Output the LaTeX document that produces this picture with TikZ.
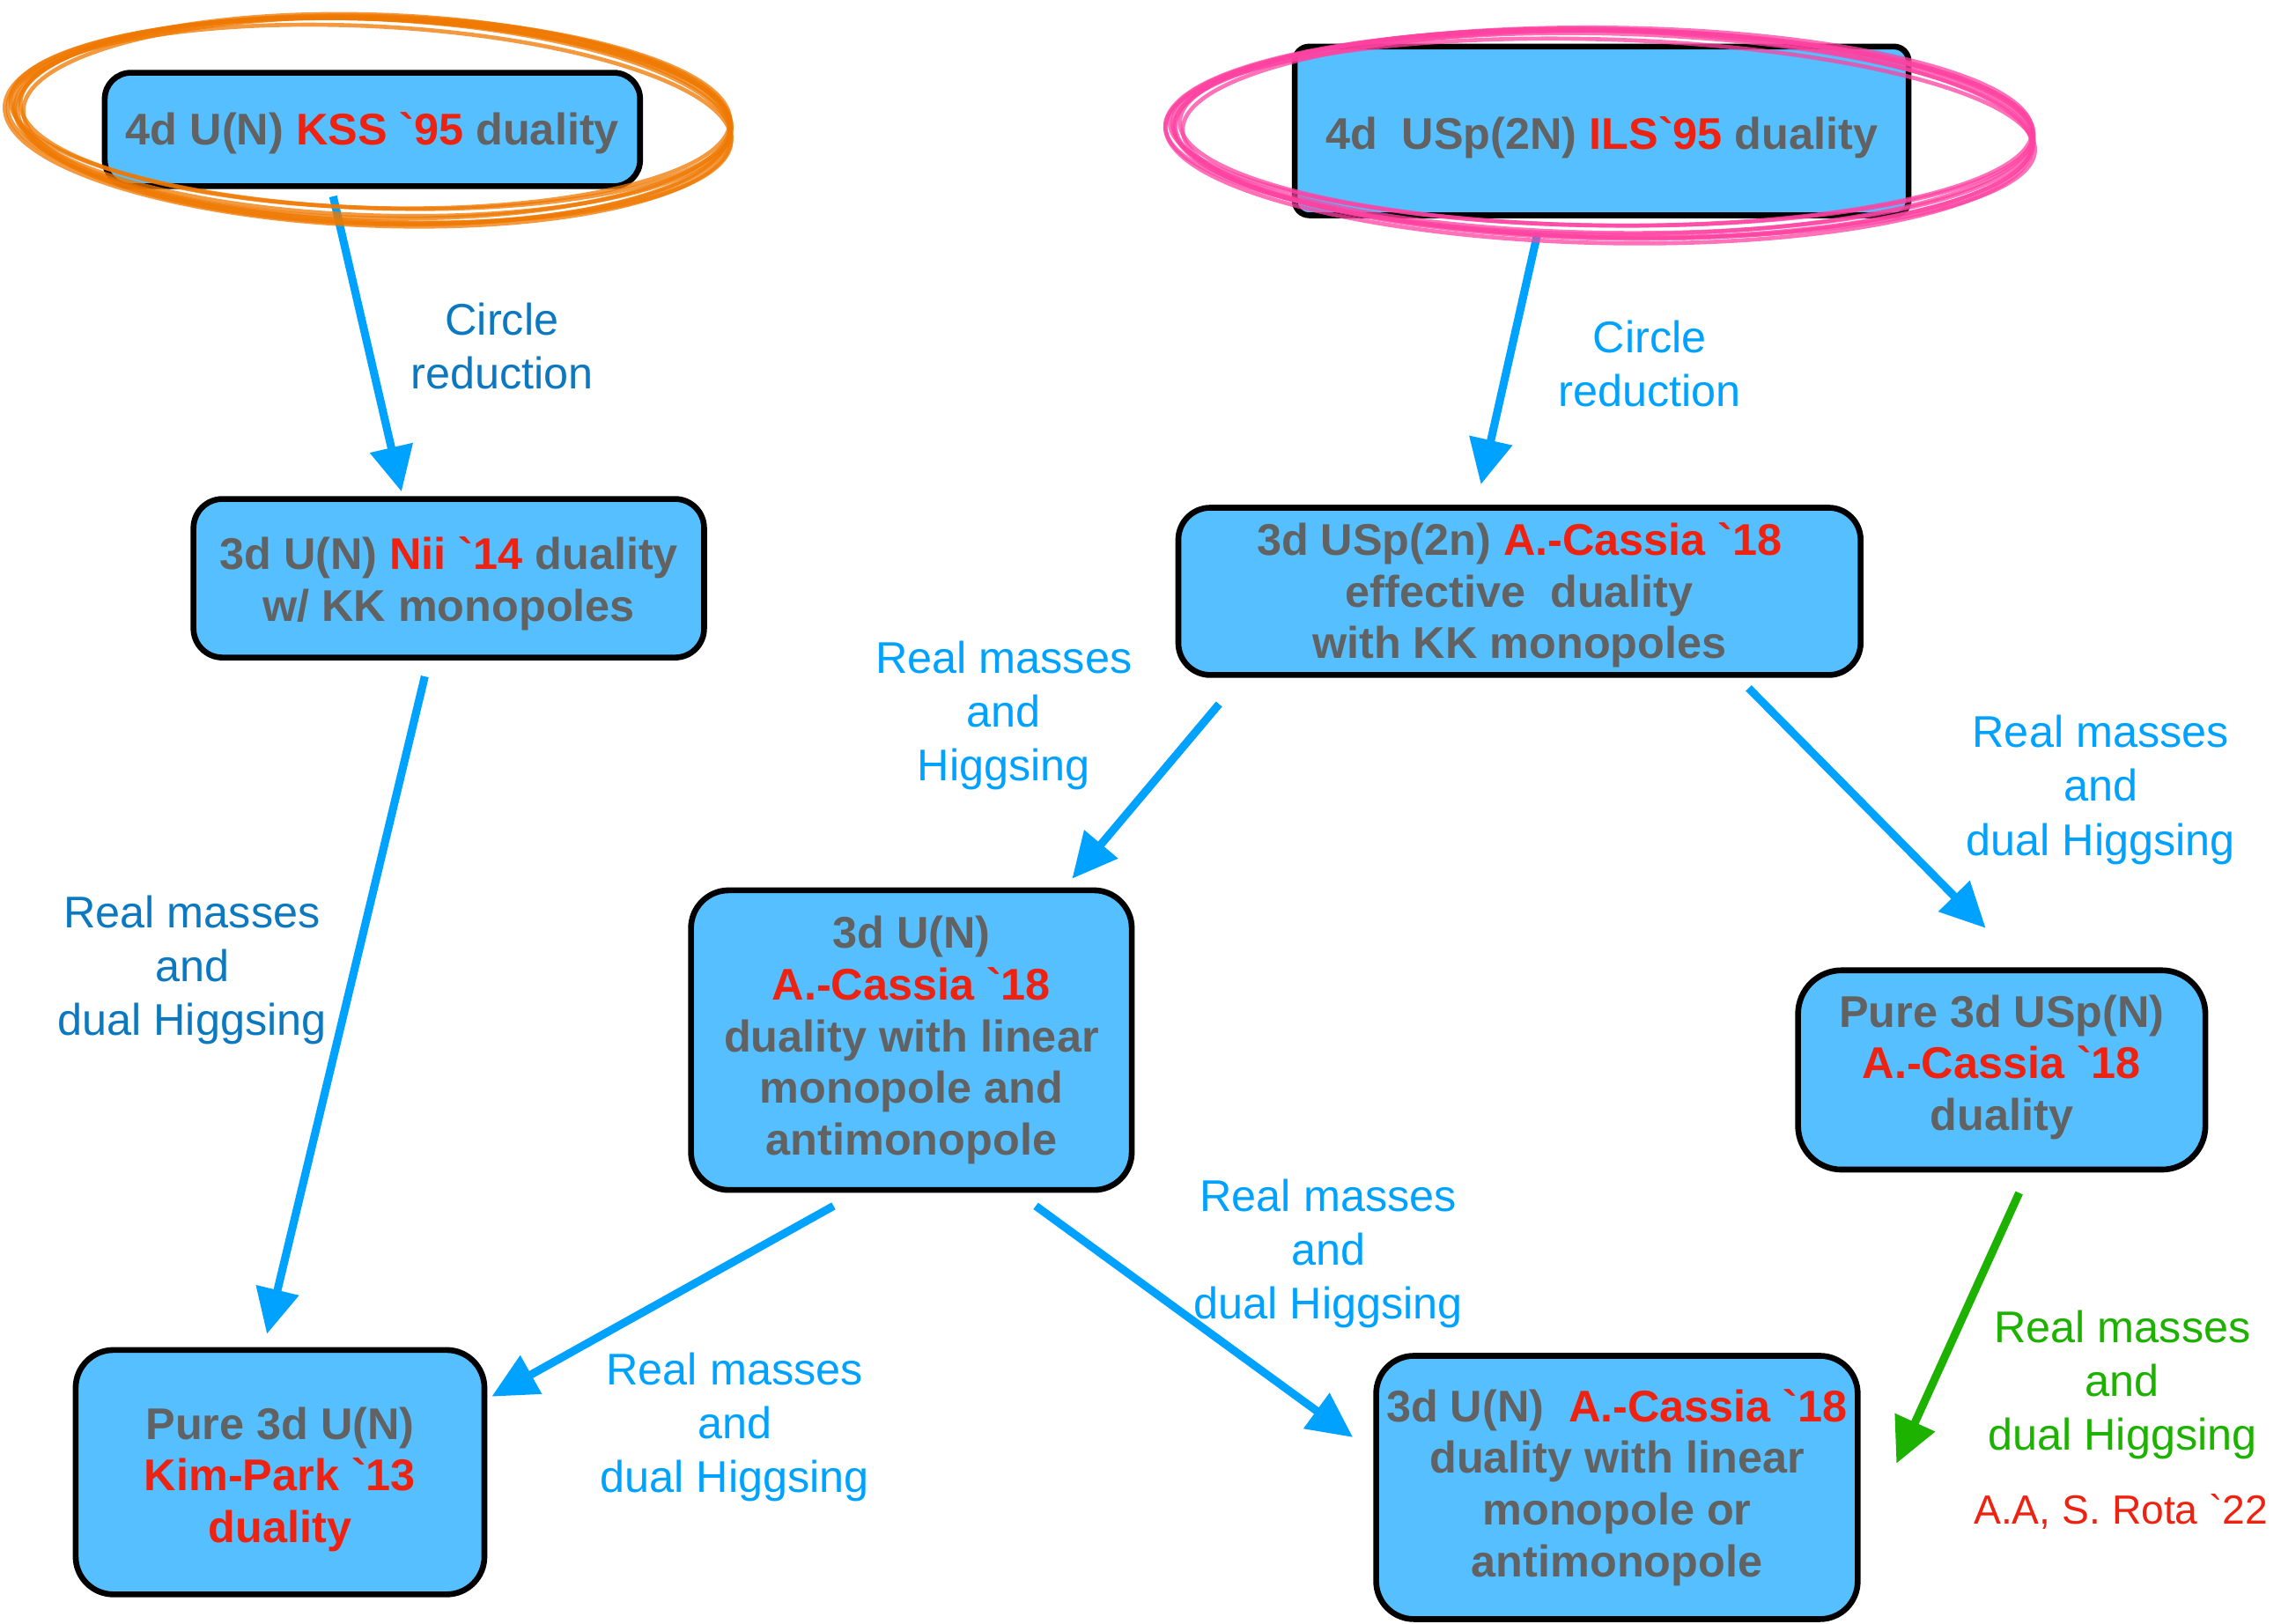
\documentclass[tikz,border=0pt]{standalone}
\usepackage{fontspec}
\setmainfont{Liberation Sans}[Ligatures=TeXOff]
\usetikzlibrary{arrows.meta}
\definecolor{boxfill}{HTML}{55BFFF}
\definecolor{gtext}{HTML}{626262}
\definecolor{tred}{HTML}{EE2211}
\definecolor{arrblue}{HTML}{00A2FF}
\definecolor{lblue}{HTML}{00A2FF}
\definecolor{ldark}{HTML}{0B78C0}
\definecolor{tgreen}{HTML}{1DB100}
\definecolor{korange}{HTML}{EF7800}
\definecolor{kpink}{HTML}{FF42A1}
\newcommand\rd[1]{\textcolor{tred}{#1}}
\newcommand\gv{\symbol{96}}
\newcommand\toppad[1]{\rule{0pt}{#1}}
\newcommand\botpad[1]{\rule[-#1]{0pt}{0pt}}
\begin{document}
\begin{tikzpicture}[x=1pt,y=-1pt]
\tikzset{
 dbox/.style={draw=black, line width=4pt, fill=boxfill, rounded corners=26pt, align=center,
   font=\bfseries\fontsize{30.5}{35.5}\selectfont, text=gtext, inner sep=0pt},
 arr/.style={draw=arrblue, line width=5.5pt, -{Triangle[length=31pt,width=29pt]}},
 garr/.style={arr, draw=tgreen},
 lab/.style={align=center, font=\fontsize{30.5}{37}\selectfont, text=lblue},
 sketch/.style={line width=2.8pt, opacity=0.75},
}
\useasboundingbox (0,0) rectangle (1568,1116);

% boxes
\node[dbox, minimum width=368pt, minimum height=78pt, rounded corners=18pt] (kss) at (256,89)
  {\toppad{28pt}4d U(N) \rd{KSS \gv95} duality};
\node[dbox, minimum width=422pt, minimum height=116pt, rounded corners=10pt] (ils) at (1101,90)
  {\toppad{32pt}4d~~USp(2N) \rd{ILS\gv95} duality};
\node[dbox, minimum width=351pt, minimum height=109pt, rounded corners=20pt] (nii) at (308.5,397.5)
  {\toppad{30pt}3d U(N) \rd{Nii \gv14} duality\\w/ KK monopoles};
\node[dbox, minimum width=469pt, minimum height=115pt, rounded corners=22pt] (usp) at (1044.5,406.5)
  {\toppad{28pt}3d USp(2n) \rd{A.-Cassia \gv18}\\effective~~duality\\with KK monopoles};
\node[dbox, minimum width=303pt, minimum height=206pt] (mid) at (626.5,715)
  {3d U(N)\\\rd{A.-Cassia \gv18}\\duality with linear\\monopole and\\antimonopole};
\node[dbox, minimum width=280pt, minimum height=137pt, rounded corners=30pt] (pusp) at (1376,735.5)
  {Pure 3d USp(N)\\\rd{A.-Cassia \gv18}\\duality\botpad{10pt}};
\node[dbox, minimum width=281pt, minimum height=168pt] (kp) at (192.5,1012)
  {\toppad{32pt}Pure 3d U(N)\\\rd{Kim-Park \gv13}\\\rd{duality}};
\node[dbox, minimum width=331pt, minimum height=181pt] (br) at (1111.5,1022.5)
  {3d U(N)~~\rd{A.-Cassia \gv18}\\duality with linear\\monopole or\\antimonopole};

% arrows
\draw[arr] ([shift={(-27,5)}]kss.south) -- ([shift={(-32.5,-3)}]nii.north);
\draw[arr] ([shift={(-44,10)}]ils.south) -- ([shift={(-26.5,-14)}]usp.north);
\draw[arr] ([shift={(-16.5,11)}]nii.south) -- ([shift={(-9,-9)}]kp.north);
\draw[arr] ([shift={(-206.5,18)}]usp.south) -- ([shift={(110.5,-6)}]mid.north);
\draw[arr] ([shift={(157.5,7)}]usp.south) -- ([shift={(-11,-27)}]pusp.north);
\draw[arr] ([shift={(-53.5,9)}]mid.south) -- ([shift={(3,-52)}]kp.east);
\draw[arr] ([shift={(85.5,9)}]mid.south) -- ([shift={(-14,-34.5)}]br.west);
\draw[garr] ([shift={(12,14)}]pusp.south) -- ([shift={(24.6,-16.5)}]br.east);

% labels
\node[lab, text=ldark] (l1) at (345,238) {Circle\\reduction};
\node[lab] (l2) at (1134,250) {Circle\\reduction};
\node[lab, text=ldark] (l3) at (132,667) {Real masses\\and\\dual Higgsing};
\node[lab] (l4) at (690,492) {Real masses\\and\\Higgsing};
\node[lab] (l5) at (1444,543) {Real masses\\and\\dual Higgsing};
\node[lab] (l6) at (505,981) {Real masses\\and\\dual Higgsing};
\node[lab] (l7) at (913,862) {Real masses\\and\\dual Higgsing};
\node[lab, text=tgreen] (l8) at (1459,952) {Real masses\\and\\dual Higgsing};
\node[lab, text=tred, font=\fontsize{28}{34}\selectfont] (l9) at (1458,1039) {A.A, S. Rota \gv22};

% hand-drawn ellipses
\foreach \dx/\dy/\rx/\ry/\r in {0/0/247/68/-2, 2/-3/244/66/-1.5, -3/4/250/71/-2.5, 1/2/245/72/-1.8, -1/-2/248/65/-2.2, 3/1/243/69/-1.2, -2/5/249/67/-2.8, 0/3/246/70/-2.1}
  \draw[korange, sketch, shift={(256+\dx,80+\dy)}, rotate=\r] (0,0) ellipse [x radius=\rx, y radius=\ry];
\foreach \dx/\dy/\rx/\ry/\r in {0/0/296/70/-1, 2/-3/293/68/-0.6, -3/4/298/73/-1.4, 1/2/295/72/-1.1, -1/-2/297/67/-0.8, 3/1/292/70/-0.4, -2/5/299/68/-1.6, 0/3/295/70/-1.2}
  \draw[kpink, sketch, shift={(1102+\dx,90+\dy)}, rotate=\r] (0,0) ellipse [x radius=\rx, y radius=\ry];
\end{tikzpicture}
\end{document}
